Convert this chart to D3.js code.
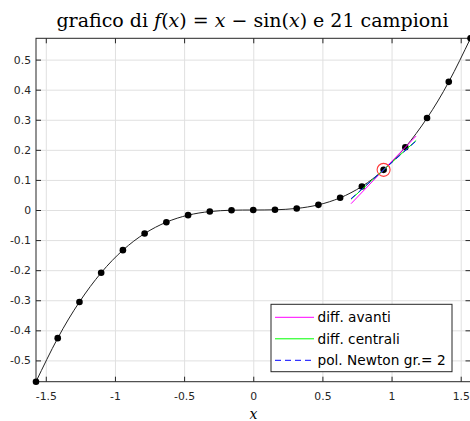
<!DOCTYPE html>
<html>
<head>
<meta charset="utf-8">
<script src="https://cdn.jsdelivr.net/npm/d3@7"></script>
<style>
  html, body { margin: 0; padding: 0; background: #fff; }
  svg { display: block; }
  .tick text { font-family: "DejaVu Sans", sans-serif; font-size: 10.8px; fill: #262626; }
</style>
</head>
<body>
<div id="chart"></div>
<script>
// 21 campioni di f(x) = x - sin(x) su [-pi/2, pi/2]
const sampleX = [-1.5708, -1.4137, -1.2566, -1.0996, -0.9425, -0.7854, -0.6283, -0.4712, -0.3142, -0.1571,
                 0, 0.1571, 0.3142, 0.4712, 0.6283, 0.7854, 0.9425, 1.0996, 1.2566, 1.4137, 1.5708];
const sampleY = [-0.5708, -0.4260, -0.3056, -0.2086, -0.1335, -0.0783, -0.0405, -0.0172, -0.0052, -0.0007,
                 0, 0.0007, 0.0052, 0.0172, 0.0405, 0.0783, 0.1335, 0.2086, 0.3056, 0.4260, 0.5708];

// punto di valutazione e pendenze stimate
const pointX = 0.9425;
const pointY = 0.1335;
const lineNames = ["diff. avanti", "diff. centrali", "pol. Newton gr.= 2"];
const lineSlopes = [0.478, 0.415, 0.408];
const lineFrom = [0.707, 0.707, 0.707];
const lineTo = [1.178, 1.178, 1.178];

const xTicks = [-1.5, -1, -0.5, 0, 0.5, 1, 1.5];
const yTicks = [-0.5, -0.4, -0.3, -0.2, -0.1, 0, 0.1, 0.2, 0.3, 0.4, 0.5];

const lineColors = ["#ff00ff", "#00ff00", "#0000ff"];
const lineDash = [null, null, "6,4"];

const W = 470, H = 421;
const mLeft = 36, mRight = 470.5, mTop = 38.3, mBottom = 381.7;

const svg = d3.select("#chart").append("svg")
    .attr("width", W)
    .attr("height", H);

const x = d3.scaleLinear().domain([-Math.PI / 2, Math.PI / 2]).range([mLeft, mRight]);
const y = d3.scaleLinear().domain([-0.5708, 0.5708]).range([mBottom, mTop]);

const fmt = d => String(+d.toFixed(1));

// griglia
svg.append("g")
    .attr("transform", `translate(0,${mBottom})`)
    .call(d3.axisBottom(x).tickValues(xTicks).tickSize(-(mBottom - mTop)).tickFormat(""))
    .call(g => g.select(".domain").remove())
    .call(g => g.selectAll("line").attr("stroke", "#e0e0e0"));
svg.append("g")
    .attr("transform", `translate(${mLeft},0)`)
    .call(d3.axisLeft(y).tickValues(yTicks).tickSize(-(mRight - mLeft)).tickFormat(""))
    .call(g => g.select(".domain").remove())
    .call(g => g.selectAll("line").attr("stroke", "#e0e0e0"));

// assi con tacche interne
svg.append("g")
    .attr("transform", `translate(0,${mBottom})`)
    .call(d3.axisBottom(x).tickValues(xTicks).tickSizeInner(-5).tickSizeOuter(0).tickPadding(11).tickFormat(fmt))
    .call(g => g.select(".domain").remove())
    .call(g => g.selectAll("line").attr("stroke", "#262626"));
svg.append("g")
    .attr("transform", `translate(0,${mTop})`)
    .call(d3.axisTop(x).tickValues(xTicks).tickSizeInner(-5).tickSizeOuter(0).tickFormat(""))
    .call(g => g.select(".domain").remove())
    .call(g => g.selectAll("line").attr("stroke", "#262626"));
svg.append("g")
    .attr("transform", `translate(${mLeft},0)`)
    .call(d3.axisLeft(y).tickValues(yTicks).tickSizeInner(-5).tickSizeOuter(0).tickPadding(5).tickFormat(fmt))
    .call(g => g.select(".domain").remove())
    .call(g => g.selectAll("line").attr("stroke", "#262626"));
svg.append("g")
    .attr("transform", `translate(${mRight},0)`)
    .call(d3.axisRight(y).tickValues(yTicks).tickSizeInner(-5).tickSizeOuter(0).tickFormat(""))
    .call(g => g.select(".domain").remove())
    .call(g => g.selectAll("line").attr("stroke", "#262626"));

svg.append("rect")
    .attr("x", mLeft).attr("y", mTop)
    .attr("width", mRight - mLeft).attr("height", mBottom - mTop)
    .attr("fill", "none").attr("stroke", "#262626").attr("stroke-width", 1);

// curva
const samples = sampleX.map((v, i) => [v, sampleY[i]]);
svg.append("path")
    .datum(samples)
    .attr("fill", "none")
    .attr("stroke", "#222")
    .attr("stroke-width", 1)
    .attr("d", d3.line().x(d => x(d[0])).y(d => y(d[1])).curve(d3.curveNatural));

// campioni
svg.selectAll(".dot")
    .data(samples)
    .enter().append("circle")
    .attr("class", "dot")
    .attr("cx", d => x(d[0]))
    .attr("cy", d => y(d[1]))
    .attr("r", 3.3)
    .attr("fill", "#000");

// rette tangenti
lineNames.forEach((name, i) => {
    const pts = [lineFrom[i], lineTo[i]].map(t => [t, pointY + lineSlopes[i] * (t - pointX)]);
    svg.append("path")
        .datum(pts)
        .attr("fill", "none")
        .attr("stroke", lineColors[i])
        .attr("stroke-width", 1)
        .attr("stroke-dasharray", lineDash[i])
        .attr("d", d3.line().x(d => x(d[0])).y(d => y(d[1])));
});

svg.append("circle")
    .attr("cx", x(pointX))
    .attr("cy", y(pointY))
    .attr("r", 6.5)
    .attr("fill", "none")
    .attr("stroke", "#ff3b3b")
    .attr("stroke-width", 1.1);

// legenda
const lg = svg.append("g").attr("transform", "translate(271,304.3)");
lg.append("rect")
    .attr("width", 181).attr("height", 67.4)
    .attr("fill", "#fff").attr("stroke", "#262626").attr("stroke-width", 1);
lineNames.forEach((name, i) => {
    const ry = 13 + i * 21.5;
    lg.append("line")
        .attr("x1", 4).attr("x2", 43).attr("y1", ry).attr("y2", ry)
        .attr("stroke", lineColors[i]).attr("stroke-width", 1)
        .attr("stroke-dasharray", lineDash[i]);
    lg.append("text")
        .attr("x", 46.5).attr("y", ry).attr("dy", "0.36em")
        .attr("font-family", "DejaVu Sans, sans-serif")
        .attr("font-size", 13.7)
        .attr("fill", "#000")
        .text(name);
});

// titolo
const title = svg.append("text")
    .attr("x", 252.5).attr("y", 27)
    .attr("text-anchor", "middle")
    .attr("font-family", "DejaVu Serif, serif")
    .attr("font-size", 19)
    .attr("fill", "#000");
[["grafico di ", false], ["f", true], ["(", false], ["x", true], [") = ", false], ["x", true],
 [" \u2212 sin(", false], ["x", true], [") e 21 campioni", false]].forEach(([t, it]) => {
    title.append("tspan").attr("font-style", it ? "italic" : "normal").text(t);
});

svg.append("text")
    .attr("x", 253.5).attr("y", 418.5)
    .attr("text-anchor", "middle")
    .attr("font-family", "DejaVu Serif, serif")
    .attr("font-style", "italic")
    .attr("font-size", 14)
    .attr("fill", "#000")
    .text("x");
</script>
</body>
</html>
